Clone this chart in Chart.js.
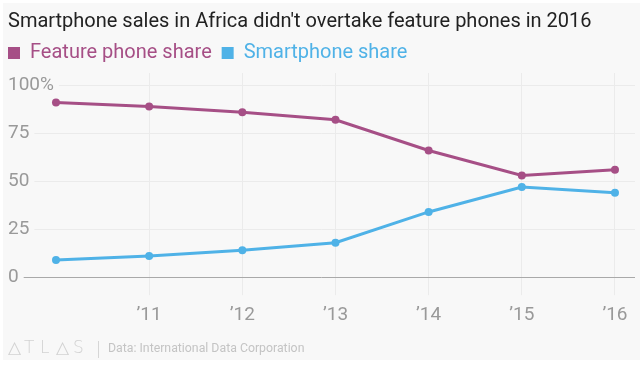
<!DOCTYPE html>
<html>
<head>
<meta charset="utf-8">
<title>Smartphone sales in Africa</title>
<script src="https://cdn.jsdelivr.net/npm/chart.js@4.4.1/dist/chart.umd.min.js"></script>
<style>
  html, body { margin: 0; padding: 0; background: #fff; }
  #wrap { width: 640px; height: 366px; position: relative; }
</style>
</head>
<body>
<div id="wrap"><canvas id="chart" width="640" height="366"></canvas></div>
<script>
// Data
const years = [2010, 2011, 2012, 2013, 2014, 2015, 2016];
const featureShare = [91, 89, 86, 82, 66, 53, 56];
const smartShare = [9, 11, 14, 18, 34, 47, 44];
const xTickYears = [2011, 2012, 2013, 2014, 2015, 2016];
const xTickLabels = ['\u201911', '\u201912', '\u201913', '\u201914', '\u201915', '\u201916'];
const yTicks = [0, 25, 50, 75, 100];

const PURPLE = '#a64f86';
const BLUE = '#4fb2e7';
const BG = '#f8f8f8';

// Paints the grey panel and the ATLAS source line
const panelPlugin = {
  id: 'panel',
  beforeDraw(chart) {
    const ctx = chart.ctx;
    ctx.save();
    ctx.fillStyle = BG;
    ctx.fillRect(3, 3, 637, 357);
    ctx.restore();
  },
  afterDraw(chart) {
    const ctx = chart.ctx;
    ctx.save();
    ctx.textBaseline = 'middle';
    ctx.fillStyle = '#d2d2d2';
    ctx.font = '300 17px "DejaVu Sans", sans-serif';
    const logo = ['\u25B3', 'T', 'L', '\u25B3', 'S'];
    const logoX = [8, 24, 40, 56, 73];
    logo.forEach((ch, i) => ctx.fillText(ch, logoX[i], 349));
    ctx.strokeStyle = '#d6d6d6';
    ctx.lineWidth = 1;
    ctx.beginPath();
    ctx.moveTo(98.5, 341);
    ctx.lineTo(98.5, 358);
    ctx.stroke();
    ctx.fillStyle = '#c4c4c4';
    ctx.font = '12.3px Roboto, sans-serif';
    ctx.fillText('Data: International Data Corporation', 108, 349);
    ctx.restore();
  }
};

const ctx = document.getElementById('chart').getContext('2d');
new Chart(ctx, {
  type: 'line',
  data: {
    datasets: [{
      label: 'Feature phone share',
      data: years.map((y, i) => ({ x: y, y: featureShare[i] })),
      borderColor: PURPLE,
      backgroundColor: PURPLE,
      borderWidth: 3,
      pointRadius: 4,
      pointBorderWidth: 0,
      tension: 0
    }, {
      label: 'Smartphone share',
      data: years.map((y, i) => ({ x: y, y: smartShare[i] })),
      borderColor: BLUE,
      backgroundColor: BLUE,
      borderWidth: 3,
      pointRadius: 4,
      pointBorderWidth: 0,
      tension: 0
    }]
  },
  options: {
    responsive: false,
    animation: false,
    events: [],
    layout: { padding: { left: 8, right: 5, top: 0, bottom: 31 } },
    plugins: {
      title: {
        display: true,
        text: "Smartphone sales in Africa didn't overtake feature phones in 2016",
        align: 'start',
        color: '#222',
        font: { family: 'Roboto', size: 20, weight: 'normal' },
        padding: { top: 10, bottom: 9 }
      },
      legend: {
        display: true,
        align: 'start',
        labels: {
          boxWidth: 12,
          boxHeight: 12,
          padding: 0,
          font: { family: 'Roboto', size: 20 },
          generateLabels(chart) {
            // trailing spaces give the gap between the two items
            return chart.data.datasets.map((ds, i) => ({
              text: ds.label + '  ',
              fillStyle: ds.borderColor,
              strokeStyle: ds.borderColor,
              lineWidth: 0,
              fontColor: ds.borderColor,
              datasetIndex: i
            }));
          }
        }
      },
      tooltip: { enabled: false }
    },
    scales: {
      x: {
        type: 'linear',
        min: 2009.485,
        max: 2016.215,
        afterBuildTicks(scale) {
          scale.ticks = xTickYears.map(v => ({ value: v }));
        },
        border: { display: false },
        grid: { color: '#ebebeb', lineWidth: 1, tickLength: 18, drawTicks: true },
        ticks: {
          padding: 8.5,
          color: '#999',
          font: { family: 'Roboto', size: 19 },
          maxRotation: 0,
          callback(value) {
            const i = xTickYears.indexOf(value);
            return i >= 0 ? xTickLabels[i] : '';
          }
        }
      },
      y: {
        min: 0,
        max: 106.4,
        afterBuildTicks(scale) {
          scale.ticks = yTicks.map(v => ({ value: v }));
        },
        border: { display: false },
        grid: {
          drawTicks: false,
          lineWidth: 1,
          color: c => (c.tick && c.tick.value === 0 ? '#a9a9a9' : '#ebebeb')
        },
        ticks: {
          mirror: true,
          padding: 0,
          color: '#999',
          font: { family: 'Roboto', size: 19 },
          showLabelBackdrop: true,
          backdropColor: BG,
          backdropPadding: { left: 2, right: 5, top: 1, bottom: 1 },
          callback: v => (v === 100 ? '100%' : String(v))
        }
      }
    }
  },
  plugins: [panelPlugin]
});
</script>
</body>
</html>
